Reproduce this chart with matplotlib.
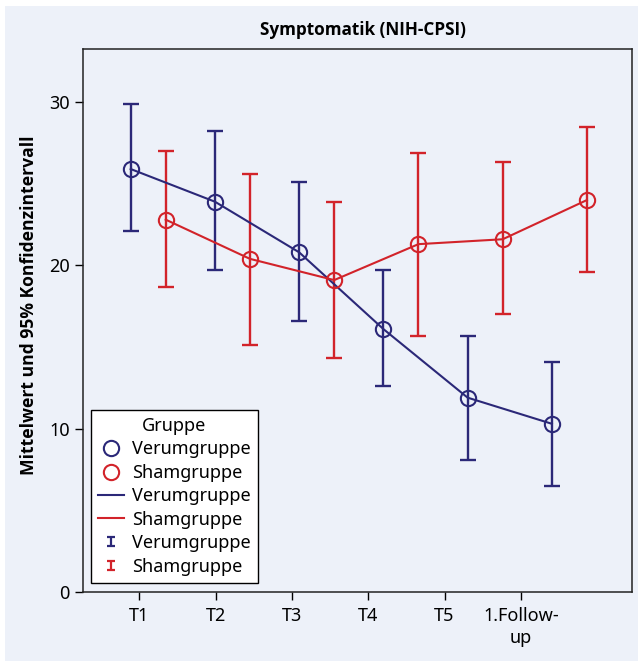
import numpy as np
import matplotlib
matplotlib.use('Agg')
import matplotlib.pyplot as plt
from matplotlib.lines import Line2D
from matplotlib.patches import Rectangle
from matplotlib.legend_handler import HandlerErrorbar

plt.rcParams['font.family'] = ['Noto Sans', 'DejaVu Sans']

# data
zeitpunkte = ['T1', 'T2', 'T3', 'T4', 'T5', '1.Follow-\nup']
verum_mean = [25.9, 23.9, 20.8, 16.1, 11.9, 10.3]
verum_low  = [22.1, 19.7, 16.6, 12.6,  8.1,  6.5]
verum_high = [29.9, 28.2, 25.1, 19.7, 15.7, 14.1]
sham_mean  = [22.8, 20.4, 19.1, 21.3, 21.6, 24.0]
sham_low   = [18.7, 15.1, 14.3, 15.7, 17.0, 19.6]
sham_high  = [27.0, 25.6, 23.9, 26.9, 26.3, 28.5]

bg = '#edf1f9'
c_verum = '#2b2878'
c_sham = '#d2232a'

# points sit on a slightly wider grid than the category ticks
step = 1.104
x0 = -0.113
sham_shift = 0.459

fig = plt.figure(figsize=(6.38, 6.61), dpi=100, facecolor='white')
fig.patches.append(Rectangle((5/638, 0), 1, 1 - 6/661, transform=fig.transFigure,
                             facecolor=bg, edgecolor='none', zorder=-10))
ax = fig.add_axes([83/638, 1 - 592/661, 549/638, 543/661])
ax.set_facecolor(bg)

def draw_group(mean, low, high, shift, color):
    mean = np.array(mean)
    x = x0 + step * np.arange(len(mean)) + shift
    yerr = [mean - np.array(low), np.array(high) - mean]
    ax.errorbar(x, mean, yerr=yerr, fmt='none', ecolor=color, elinewidth=1.7,
                capsize=6, capthick=1.7, zorder=2)
    ax.plot(x, mean, '-', color=color, lw=1.5, zorder=3)
    ax.plot(x, mean, 'o', ms=11, mfc='none', mec=color, mew=1.5, zorder=4)
    # small proxy for the legend
    return ax.errorbar([np.nan], [np.nan], yerr=[1], fmt='none', ecolor=color,
                       elinewidth=1.6, capsize=3.2, capthick=1.6)

eb_v = draw_group(verum_mean, verum_low, verum_high, 0, c_verum)
eb_s = draw_group(sham_mean, sham_low, sham_high, sham_shift, c_sham)

ax.set_xlim(-0.738, 6.457)
ax.set_ylim(0, 33.25)
ax.set_xticks(range(len(zeitpunkte)))
ax.set_xticklabels(zeitpunkte, linespacing=1.25)
ax.set_yticks([0, 10, 20, 30])
ax.tick_params(direction='out', length=6, width=1, labelsize=13, colors='black')
ax.tick_params(axis='x', pad=5)
for s in ax.spines.values():
    s.set_linewidth(1.1)
    s.set_color('#222222')

bold = dict(family=['Open Sans', 'DejaVu Sans'], fontweight='bold')
ax.set_ylabel('Mittelwert und 95% Konfidenzintervall', fontsize=12.6, **bold)
ax.yaxis.set_label_coords(-0.082, 0.528)
ax.set_title('Symptomatik (NIH-CPSI)', pad=10, x=0.51, fontsize=12.3, **bold)

handles = [
    Line2D([], [], ls='none', marker='o', ms=11, mfc='none', mec=c_verum, mew=1.5),
    Line2D([], [], ls='none', marker='o', ms=11, mfc='none', mec=c_sham, mew=1.5),
    Line2D([], [], color=c_verum, lw=1.5),
    Line2D([], [], color=c_sham, lw=1.5),
    eb_v, eb_s,
]
labels = ['Verumgruppe', 'Shamgruppe'] * 3
leg = ax.legend(handles, labels, title='Gruppe', loc='lower left',
                bbox_to_anchor=(0.014, 0.017), borderaxespad=0, fontsize=13,
                title_fontsize=13, frameon=True, fancybox=False, framealpha=1,
                edgecolor='black', handlelength=1.45, handletextpad=0.45,
                labelspacing=0.3, borderpad=0.4,
                handler_map={type(eb_v): HandlerErrorbar(yerr_size=0.24)})
leg.get_frame().set_linewidth(1.0)

fig.savefig('out.png', dpi=100, facecolor=fig.get_facecolor())
